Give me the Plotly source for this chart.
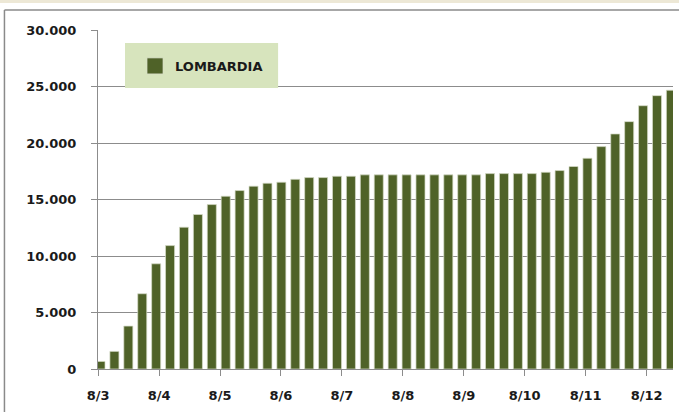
import plotly.graph_objects as go

# ---- data ----
series_name = "LOMBARDIA"
values = [670, 1560, 3800, 6660, 9310, 10920, 12550, 13670, 14550, 15290,
          15790, 16180, 16440, 16530, 16790, 16940, 16940, 17060, 17060, 17180,
          17180, 17180, 17180, 17180, 17180, 17180, 17180, 17180, 17290, 17290,
          17290, 17290, 17410, 17560, 17920, 18650, 19680, 20800, 21890, 23300,
          24190, 24670]
tick_labels = ["8/3", "8/4", "8/5", "8/6", "8/7", "8/8", "8/9", "8/10", "8/11", "8/12"]
y_ticks = [0, 5000, 10000, 15000, 20000, 25000, 30000]
y_tick_text = ["0", "5.000", "10.000", "15.000", "20.000", "25.000", "30.000"]

# samples per day on the x axis, and offset of the first day label
per_day = 4.38
first_day = -0.17

W, H = 679, 412
ML, MR, MT, MB = 98, 6.3, 30, 42.7
PW, PH = W - ML - MR, H - MT - MB

def px(x):
    return (x - ML) / PW

def py(y):
    return (H - MB - y) / PH

BAR = "#4F6228"
GRID = "#8C8C8C"
FONT = "DejaVu Sans"

xs = list(range(len(values)))
tickvals = [first_day + k * per_day for k in range(len(tick_labels))]

fig = go.Figure()
fig.add_trace(go.Bar(
    x=xs, y=values, name=series_name, showlegend=False,
    marker=dict(color=BAR, line=dict(color="rgba(215,220,200,0.9)", width=0.8)),
    width=0.65,
))
# legend proxy with larger square symbol
fig.add_trace(go.Scatter(
    x=[None], y=[None], mode="markers", name=series_name,
    marker=dict(symbol="square", size=16, color=BAR,
                line=dict(color="rgba(215,220,200,0.9)", width=0.8)),
))

fig.update_layout(
    width=W, height=H,
    margin=dict(l=ML, r=MR, t=MT, b=MB, pad=0),
    paper_bgcolor="white", plot_bgcolor="white",
    font=dict(family=FONT, size=13, color="#1a1a1a"),
    bargap=0.35,
    legend=dict(
        x=px(135), y=py(66), xanchor="left", yanchor="middle",
        bgcolor="rgba(0,0,0,0)", borderwidth=0,
        font=dict(family=FONT, size=13, color="#1a1a1a", weight="bold"),
        itemsizing="trace",
    ),
    xaxis=dict(
        range=[-0.18, 41.15], tickmode="array", tickvals=tickvals,
        ticktext=tick_labels, ticks="outside", ticklen=6, tickcolor=GRID,
        showgrid=False, showline=True, linecolor=GRID, linewidth=1,
        zeroline=False, tickfont=dict(family=FONT, size=13, color="#1a1a1a", weight="bold"),
        ticklabelstandoff=8,
    ),
    yaxis=dict(
        range=[0, 30000], tickmode="array", tickvals=y_ticks, ticktext=y_tick_text,
        ticks="outside", ticklen=6, tickcolor=GRID,
        showgrid=True, gridcolor=GRID, gridwidth=1,
        showline=True, linecolor=GRID, linewidth=1, zeroline=False,
        tickfont=dict(family=FONT, size=13, color="#1a1a1a", weight="bold"),
        ticklabelstandoff=12,
    ),
    shapes=[
        # legend background box
        dict(type="rect", xref="paper", yref="paper",
             x0=px(125), x1=px(278), y0=py(88), y1=py(43),
             fillcolor="#D7E4BD", line=dict(width=0), layer="above"),
        # outer chart border (top and left)
        dict(type="line", xref="paper", yref="paper",
             x0=px(4.5), x1=px(W + 5), y0=py(10), y1=py(10),
             line=dict(color="#8a8a8a", width=1.5)),
        dict(type="line", xref="paper", yref="paper",
             x0=px(4.5), x1=px(4.5), y0=py(10), y1=py(H + 5),
             line=dict(color="#8a8a8a", width=1.5)),
        # beige strip at the very top
        dict(type="rect", xref="paper", yref="paper",
             x0=px(0), x1=px(W), y0=py(3), y1=py(0),
             fillcolor="#EDE8D6", line=dict(width=0)),
    ],
)

fig.write_html(
    "out.html",
    config={"displayModeBar": False},
    post_script="document.body.style.margin='0';document.body.style.overflow='hidden';",
)
